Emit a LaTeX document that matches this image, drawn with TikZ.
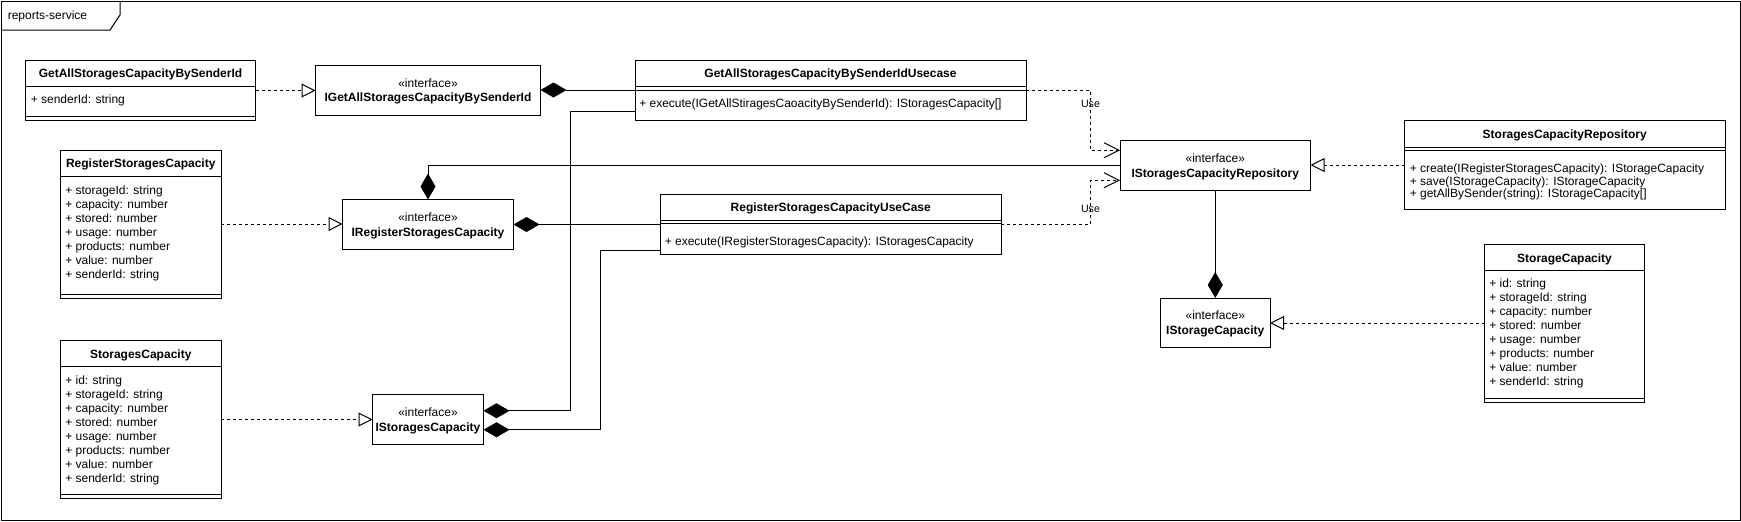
\documentclass[tikz,border=0pt]{standalone}
\usepackage{fontspec}
\setmainfont{Liberation Sans}
\usetikzlibrary{arrows.meta,calc}
\newcommand\cdiv[2]{\draw[conn] ($(#1.north west)+(0,#2)$) -- ($(#1.north east)+(0,#2)$);}
\begin{document}
\begin{tikzpicture}[x=0.75pt,y=-0.75pt,
  conn/.style={line width=0.75pt},
  box/.style={draw, line width=0.75pt, inner sep=0pt, outer sep=0pt, anchor=north west},
  wh/.style 2 args={minimum width=#1*0.75pt, minimum height=#2*0.75pt},
  txt/.style={inner sep=0pt, text height=6.45pt, text depth=0pt, font=\fontsize{9pt}{10.5pt}\selectfont},
  attr/.style={txt, anchor=west},
  hdr/.style={txt, font=\fontsize{9pt}{10.5pt}\selectfont\bfseries},
  lbl/.style={inner sep=0pt, text height=5.6pt, text depth=0pt, font=\fontsize{8pt}{9pt}\selectfont},
  real/.style={conn, dash pattern=on 2.25pt off 2.25pt, -{Triangle[open, length=10.5pt, width=10.5pt]}},
  use/.style={conn, dash pattern=on 2.25pt off 2.25pt, -{Straight Barb[length=11.25pt, width=11.25pt]}},
  comp/.style={conn, {Diamond[length=19.5pt, width=11.25pt]}-},
  compend/.style={conn, -{Diamond[length=19.5pt, width=11.25pt]}}
]
\useasboundingbox (0,0) rectangle (1741,521);
% frame
\draw[conn] (1,1) rectangle (1740,520);
\draw[conn] (1,30) -- (110,30) -- (120,15) -- (120,1);
\node[attr] (title) at (7.5,15) {reports-service};

% boxes
\node[box,wh={230}{60}] (GA) at (25.5,60.5) {};
\node[box,wh={225}{50}] (IGA) at (315.5,65) {};
\node[box,wh={391}{60}] (GAU) at (635,60) {};
\node[box,wh={160.5}{148}] (RSC) at (60.5,150) {};
\node[box,wh={171}{50}] (IRS) at (342.5,199.5) {};
\node[box,wh={340.5}{60}] (RSU) at (660.5,194) {};
\node[box,wh={160.5}{158}] (SC) at (60.5,340.5) {};
\node[box,wh={111}{49.5}] (ISC) at (372.5,394.5) {};
\node[box,wh={190.5}{49.5}] (ISCR) at (1120,140.5) {};
\node[box,wh={320.5}{89}] (SCR) at (1404.5,120.5) {};
\node[box,wh={160}{158}] (SCap) at (1484.5,244) {};
\node[box,wh={109.5}{49}] (ISCap) at (1160.5,298) {};

% compartments
\cdiv{GA}{26}\cdiv{GA}{55.5}
\cdiv{GAU}{26}\cdiv{GAU}{30}
\cdiv{RSC}{26.5}\cdiv{RSC}{144}
\cdiv{RSU}{26}\cdiv{RSU}{29.5}
\cdiv{SC}{25.5}\cdiv{SC}{153.5}
\cdiv{SCR}{26.5}\cdiv{SCR}{30}
\cdiv{SCap}{26.5}\cdiv{SCap}{154}

% class texts
\node[hdr] (gaH) at ($(GA.north)+(0,13)$) {GetAllStoragesCapacityBySenderId};
\node[attr] (ga0) at ($(GA.north west)+(5,39)$) {+ senderId: string};

\node[hdr] (gauH) at ($(GAU.north)+(0,13.5)$) {GetAllStoragesCapacityBySenderIdUsecase};
\node[attr] (gau0) at ($(GAU.north west)+(4,43.5)$) {+ execute(IGetAllStiragesCaoacityBySenderId): IStoragesCapacity[]};

\node[hdr] (rscH) at ($(RSC.north)+(0,13.5)$) {RegisterStoragesCapacity};
\foreach \t [count=\i from 0] in {+ storageId: string,+ capacity: number,+ stored: number,+ usage: number,+ products: number,+ value: number,+ senderId: string}
  \node[attr] (rsc\i) at ($(RSC.north west)+(4.5,40+14*\i)$) {\t};

\node[hdr] (rsuH) at ($(RSU.north)+(0,13.5)$) {RegisterStoragesCapacityUseCase};
\node[attr] (rsu0) at ($(RSU.north west)+(4,47.5)$) {+ execute(IRegisterStoragesCapacity): IStoragesCapacity};

\node[hdr] (scH) at ($(SC.north)+(0,13.5)$) {StoragesCapacity};
\foreach \t [count=\i from 0] in {+ id: string,+ storageId: string,+ capacity: number,+ stored: number,+ usage: number,+ products: number,+ value: number,+ senderId: string}
  \node[attr] (sc\i) at ($(SC.north west)+(4.5,39.5+14*\i)$) {\t};

\node[hdr] (scrH) at ($(SCR.north)+(0,14)$) {StoragesCapacityRepository};
\foreach \t [count=\i from 0] in {+ create(IRegisterStoragesCapacity): IStorageCapacity,+ save(IStorageCapacity): IStorageCapacity,+ getAllBySender(string): IStorageCapacity[]}
  \node[attr] (scr\i) at ($(SCR.north west)+(5,48+12.5*\i)$) {\t};

\node[hdr] (scapH) at ($(SCap.north)+(0,14)$) {StorageCapacity};
\foreach \t [count=\i from 0] in {+ id: string,+ storageId: string,+ capacity: number,+ stored: number,+ usage: number,+ products: number,+ value: number,+ senderId: string}
  \node[attr] (scap\i) at ($(SCap.north west)+(4.5,39.5+14*\i)$) {\t};

% interface texts
\node[txt] (igaS) at ($(IGA.center)+(0,-7)$) {«interface»};
\node[hdr] (igaN) at ($(IGA.center)+(0,7.5)$) {IGetAllStoragesCapacityBySenderId};
\node[txt] (irsS) at ($(IRS.center)+(0,-7)$) {«interface»};
\node[hdr] (irsN) at ($(IRS.center)+(0,7.5)$) {IRegisterStoragesCapacity};
\node[txt] (iscS) at ($(ISC.center)+(0,-7)$) {«interface»};
\node[hdr] (iscN) at ($(ISC.center)+(0,7.5)$) {IStoragesCapacity};
\node[txt] (iscrS) at ($(ISCR.center)+(0,-7)$) {«interface»};
\node[hdr] (iscrN) at ($(ISCR.center)+(0,7.5)$) {IStoragesCapacityRepository};
\node[txt] (iscapS) at ($(ISCap.center)+(0,-7)$) {«interface»};
\node[hdr] (iscapN) at ($(ISCap.center)+(0,7.5)$) {IStorageCapacity};

% connectors
\draw[real] (GA.east) -- (GA.east -| IGA.west);
\draw[real] (RSC.east) -- (RSC.east -| IRS.west);
\draw[real] (SC.east) -- (SC.east -| ISC.west);
\draw[real] (SCR.west) -- (SCR.west -| ISCR.east);
\draw[real] (SCap.west) -- (SCap.west -| ISCap.east);

\draw[comp] (IGA.east) -- (IGA.east -| GAU.west);
\draw[comp] (IRS.east) -- (IRS.east -| RSU.west);
\draw[comp] (IRS.north) |- (ISCR.west);
\coordinate (k1) at (570.5,111);
\coordinate (k2) at (600.5,250.5);
\draw[comp] ($(ISC.east)+(0,-8.5)$) -| (k1) -- (k1 -| GAU.west);
\draw[comp] ($(ISC.east)+(0,10.5)$) -| (k2) -- (k2 -| RSU.west);
\draw[compend] (ISCR.south) -- (ISCap.north);

\coordinate (u) at (1090.5,0);
\draw[use] (GAU.east) -- (GAU.east -| u) |- ($(ISCR.west)+(0,-15)$);
\draw[use] (RSU.east) -- (RSU.east -| u) |- ($(ISCR.west)+(0,15)$);
\node[lbl] (use1) at (1090.5,103.5) {Use};
\node[lbl] (use2) at (1090.5,209) {Use};
\end{tikzpicture}
\end{document}
